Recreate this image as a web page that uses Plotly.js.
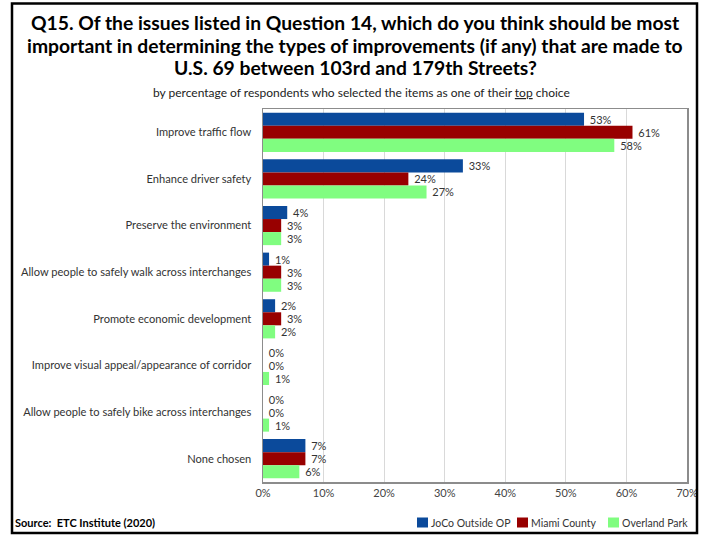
<!DOCTYPE html>
<html>
<head>
<meta charset="utf-8">
<script src="https://cdn.plot.ly/plotly-3.0.1.min.js"></script>
<style>html,body{margin:0;padding:0;background:#fff;}#chart{width:704px;height:535px;}</style>
</head>
<body>
<div id="chart"></div>
<script>
const titleLines = [
  "Q15. Of the issues listed in Question 14, which do you think should be most",
  "important in determining the types of improvements (if any) that are made to",
  "U.S. 69 between 103rd and 179th Streets?"
];
const categories = [
  "Improve traffic flow",
  "Enhance driver safety",
  "Preserve the environment",
  "Allow people to safely walk across interchanges",
  "Promote economic development",
  "Improve visual appeal/appearance of corridor",
  "Allow people to safely bike across interchanges",
  "None chosen"
];
const seriesNames = ["JoCo Outside OP", "Miami County", "Overland Park"];
const jocoOutsideOP = [53, 33, 4, 1, 2, 0, 0, 7];
const miamiCounty   = [61, 24, 3, 3, 3, 0, 0, 7];
const overlandPark  = [58, 27, 3, 3, 2, 1, 1, 6];
const seriesColors = ["#0b4a9b", "#980000", "#80fd80"];
const xTickVals = [0, 10, 20, 30, 40, 50, 60, 70];

const FONT = "Lato, 'Open Sans', sans-serif";
const seriesValues = [jocoOutsideOP, miamiCounty, overlandPark];

const traces = seriesValues.map((vals, i) => ({
  type: "bar",
  orientation: "h",
  name: seriesNames[i],
  y: categories,
  x: vals,
  marker: {color: seriesColors[i]},
  text: vals.map(v => "\u00a0" + v + "%"),
  textposition: "outside",
  textfont: {family: FONT, size: 11, color: "#333"},
  cliponaxis: false,
  hoverinfo: "x+name"
}));

// plot area in pixels: left 263, right 687, top 109, bottom 482
const L = 263, R = 687, T = 109, B = 482, W = 704, H = 535;
const px = x => (x - L) / (R - L);
const py = y => (B - y) / (B - T);

// title as three centered lines
const titleY = [22, 45, 67.5];
const titleAnn = titleLines.map((t, i) => ({
  xref: "paper", yref: "paper",
  x: px(355), y: py(titleY[i]), xanchor: "center", yanchor: "middle",
  showarrow: false,
  text: "<b>" + t + "</b>",
  font: {family: FONT, size: 19.3, color: "#000"}
}));

// compact legend built from series names/colors
const legendX = [417, 517, 608];
const legendAnn = seriesNames.map((n, i) => ({
  xref: "paper", yref: "paper",
  x: px(legendX[i] + 12), y: py(522.5),
  xanchor: "left", yanchor: "middle",
  showarrow: false,
  text: n,
  font: {family: FONT, size: 10.5, color: "#333"}
}));
const legendShapes = seriesNames.map((n, i) => ({
  type: "rect", xref: "paper", yref: "paper",
  x0: px(legendX[i]), x1: px(legendX[i] + 11),
  y0: py(527.5), y1: py(517.5),
  line: {width: 0},
  fillcolor: seriesColors[i]
}));

const layout = {
  width: W, height: H,
  margin: {l: L, r: W - R, t: T, b: H - B, pad: 0},
  paper_bgcolor: "#fff",
  plot_bgcolor: "#fff",
  barmode: "group",
  bargap: 0.16,
  bargroupgap: 0,
  showlegend: false,
  xaxis: {
    range: [0, 70],
    tickvals: xTickVals,
    ticktext: xTickVals.map(v => v + "%"),
    showgrid: true,
    gridcolor: "#d9d9d9",
    gridwidth: 1,
    zeroline: false,
    showline: true,
    linecolor: "#8c8c8c",
    linewidth: 1.5,
    mirror: true,
    ticks: "",
    tickfont: {family: FONT, size: 11, color: "#444"},
    fixedrange: true
  },
  yaxis: {
    type: "category",
    autorange: "reversed",
    showgrid: false,
    zeroline: false,
    showline: true,
    linecolor: "#8c8c8c",
    linewidth: 1.5,
    mirror: true,
    ticks: "",
    ticklabelstandoff: 8,
    tickfont: {family: FONT, size: 11.1, color: "#333"},
    fixedrange: true
  },
  annotations: titleAnn.concat([
    {
      xref: "paper", yref: "paper",
      x: px(361), y: py(92.5), xanchor: "center", yanchor: "middle",
      showarrow: false,
      text: "by percentage of respondents who selected the items as one of their <u>top</u> choice",
      font: {family: FONT, size: 12, color: "#222"}
    },
    {
      xref: "paper", yref: "paper",
      x: px(13), y: py(522.5), xanchor: "left", yanchor: "middle",
      showarrow: false,
      text: "<b>Source:  ETC Institute (2020)</b>",
      font: {family: FONT, size: 11, color: "#000"}
    }
  ]).concat(legendAnn),
  shapes: [
    {
      type: "rect", xref: "paper", yref: "paper",
      x0: px(12), x1: px(697), y0: py(533), y1: py(3.5),
      line: {color: "#000", width: 2.5},
      fillcolor: "rgba(0,0,0,0)"
    }
  ].concat(legendShapes)
};

Plotly.newPlot("chart", traces, layout, {displayModeBar: false, staticPlot: true});
</script>
</body>
</html>
